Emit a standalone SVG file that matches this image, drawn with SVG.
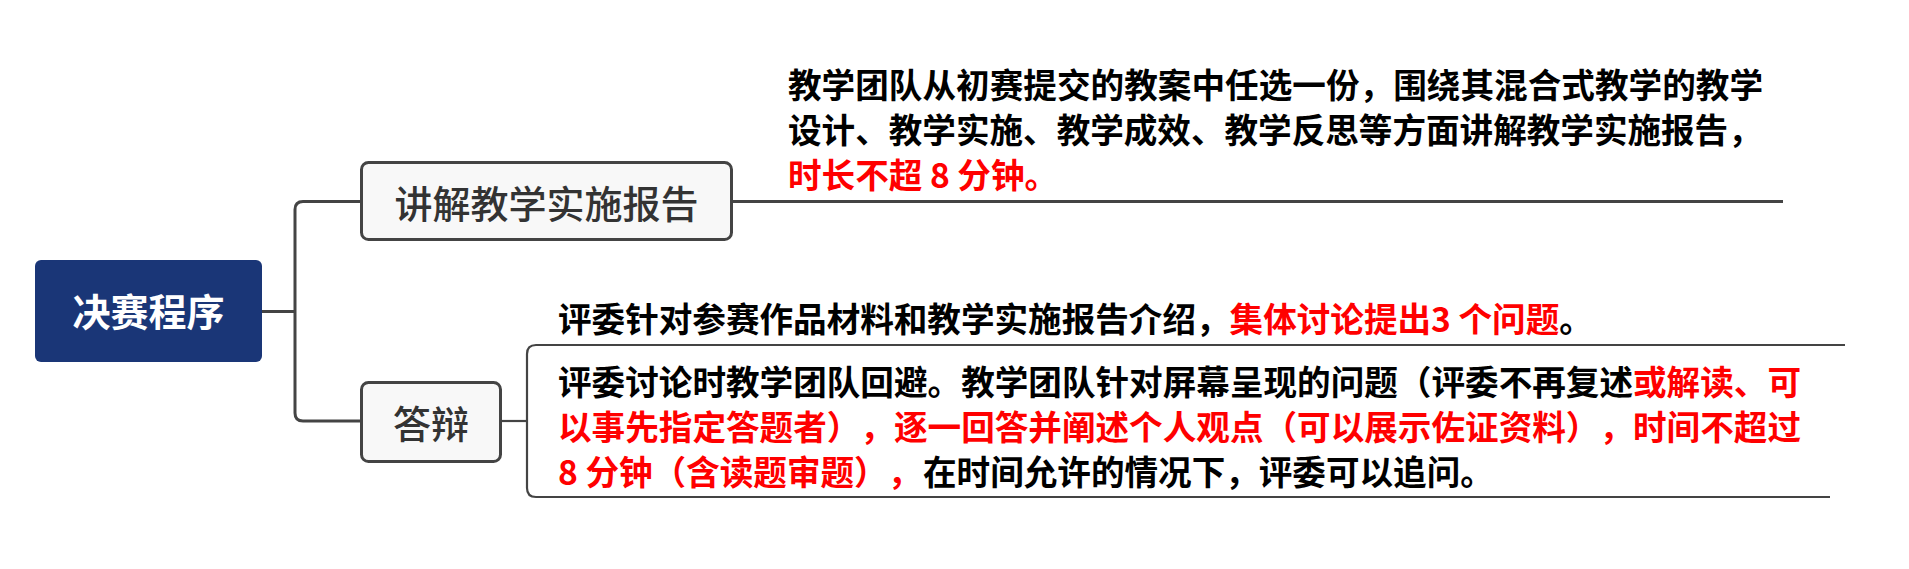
<svg xmlns="http://www.w3.org/2000/svg" width="1909" height="569" viewBox="0 0 1909 569">
<style>
.cn{font-family:"Noto Sans CJK SC","Noto Sans",sans-serif;text-spacing-trim:space-all;}
.node{fill:#f8f8f8;stroke:#444;stroke-width:3;}
.ntext{font-size:38px;font-weight:500;fill:#333;text-anchor:middle;}
.body{font-size:33.6px;font-weight:bold;fill:#000;}
.red{fill:#ff0000;}
.conn{fill:none;stroke:#444;stroke-width:3;}
.thin{fill:none;stroke:#444;stroke-width:2.2;}
</style>
<rect width="1909" height="569" fill="#ffffff"/>
<g id="connectors">
<path class="conn" d="M262,311.5 H295"/>
<path class="conn" d="M361,201.5 H303 Q295,201.5 295,209.5 V413 Q295,421 303,421 H361"/>
<path class="conn" d="M732,201.5 H1783"/>
<path class="thin" d="M501,421 H527"/>
</g>
<g id="root">
<rect x="35" y="260" width="227" height="102" rx="6" fill="#1a3677"/>
<text class="cn" x="148.5" y="326" font-size="38" font-weight="bold" fill="#ffffff" text-anchor="middle">决赛程序</text>
</g>
<g id="node-report">
<rect class="node" x="361.5" y="162.5" width="370" height="77" rx="7"/>
<text class="cn ntext" x="546.5" y="218">讲解教学实施报告</text>
</g>
<g id="node-report-detail">
<text class="cn body" x="788" y="98" textLength="975" lengthAdjust="spacing">教学团队从初赛提交的教案中任选一份，围绕其混合式教学的教学</text>
<text class="cn body" x="788" y="143">设计、教学实施、教学成效、教学反思等方面讲解教学实施报告，</text>
<text class="cn body red" x="788" y="188">时长不超 8 分钟。</text>
</g>
<g id="node-defense">
<rect class="node" x="361.5" y="382.5" width="139" height="79" rx="7"/>
<text class="cn ntext" x="431" y="438">答辩</text>
</g>
<g id="node-defense-questions">
<text class="cn body" x="558" y="332">评委针对参赛作品材料和教学实施报告介绍，<tspan class="red">集体讨论提出3 个问题</tspan>。</text>
</g>
<g id="node-defense-detail">
<path class="thin" d="M1845,345 H536 Q527,345 527,354 V488 Q527,497 536,497 H1830"/>
<text class="cn body" x="558" y="395" textLength="1243" lengthAdjust="spacing">评委讨论时教学团队回避。教学团队针对屏幕呈现的问题（评委不再复述<tspan class="red">或解读、可</tspan></text>
<text class="cn body red" x="558" y="440" textLength="1243" lengthAdjust="spacing">以事先指定答题者），逐一回答并阐述个人观点（可以展示佐证资料），时间不超过</text>
<text class="cn body" x="558" y="485"><tspan class="red">8 分钟（含读题审题），</tspan><tspan x="923">在时间允许的情况下，评委可以追问。</tspan></text>
</g>
</svg>
